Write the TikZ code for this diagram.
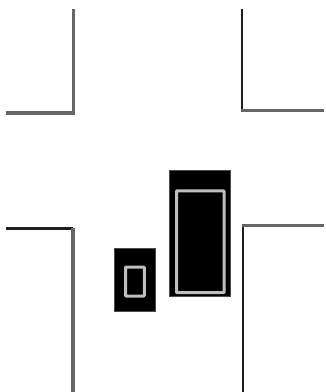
\documentclass[tikz,border=0pt]{standalone}
\tikzset{
  curbdark/.style={draw=black!88,line width=2.6pt,line join=miter},
  curbgrey/.style={draw=black!60,line width=3.6pt,line join=miter},
  vehicle/.style={fill=black,draw=black!70,line width=0.8pt},
  windowpane/.style={draw=black!25,line width=3pt,fill=black,rounded corners=0.8pt}
}
\begin{document}
\begin{tikzpicture}[x=1pt,y=-1pt]
\useasboundingbox[fill=white] (0,0) rectangle (325,392);
% road kerbs
\draw[curbgrey] (6,112.8) -- (73.5,112.8) -- (73.5,9);
\draw[curbdark] (242,9) -- (242,110.3);
\draw[curbgrey,line width=3pt] (240.7,110.3) -- (324,110.3);
\draw[curbdark] (6,228.3) -- (73,228.3);
\draw[curbgrey] (73,227.5) -- (73,392);
\draw[curbdark] (242.8,392) -- (242.8,225.8);
\draw[curbgrey,line width=2.8pt] (241.5,225.8) -- (324,225.8);
% vehicles
\path[vehicle] (114.3,248.3) rectangle (155,311.7);
\path[windowpane] (125.5,267) rectangle (144.3,296);
\path[vehicle] (169.8,170.8) rectangle (230.5,296);
\path[windowpane] (176.5,190.8) rectangle (224,292.7);
\end{tikzpicture}
\end{document}
